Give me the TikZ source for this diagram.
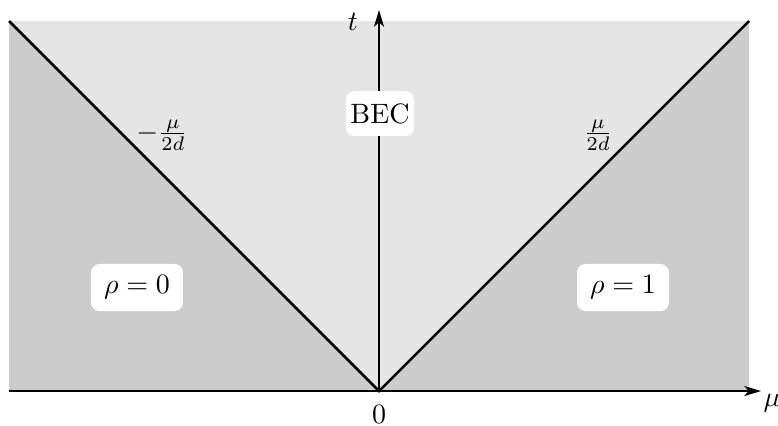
\documentclass[tikz,border=0pt]{standalone}
\usetikzlibrary{arrows.meta}
\begin{document}
\begin{tikzpicture}[x=0.357pt,y=-0.357pt,
  labelbox/.style={fill=white,rounded corners=3pt,inner sep=1pt,align=center},
  axis/.style={line width=0.4pt,-{Stealth[length=6pt,width=3.6pt,inset=1.6pt]}},
  border/.style={line width=0.9pt}]
\useasboundingbox (0,0) rectangle (778,425);
% regions
\fill[black!10] (9,21) rectangle (749,391);
\fill[black!20] (9,21) -- (9,391) -- (379,391) -- cycle;
\fill[black!20] (749,21) -- (749,391) -- (379,391) -- cycle;
% coordinates
\coordinate (O) at (379,391);
\coordinate (TL) at (9,21);
\coordinate (TR) at (749,21);
\coordinate (xs) at (9,391);
\coordinate (xe) at (761,391);
\coordinate (ye) at (379,10);
% axes
\draw[axis] (xs) -- (xe);
\draw[axis] (O) -- (ye);
% phase boundaries
\draw[border] (TL) -- (O) -- (TR);
% labels
\node (tlab) at (353,22) {$t$};
\node (mulab) at (772,403) {$\mu$};
\node (zero) at (379,414) {$0$};
\node (lfrac) at (162,135) {$-\frac{\mu}{2d}$};
\node (rfrac) at (598,135) {$\frac{\mu}{2d}$};
\node[labelbox,minimum width=24.3pt,minimum height=16pt] (bec) at (380,113.5) {BEC};
\node[labelbox,minimum width=32.8pt,minimum height=16.8pt] (rho0) at (137,287.5) {$\rho=0$};
\node[labelbox,minimum width=32.8pt,minimum height=16.8pt] (rho1) at (623,287.5) {$\rho=1$};
\end{tikzpicture}
\end{document}
